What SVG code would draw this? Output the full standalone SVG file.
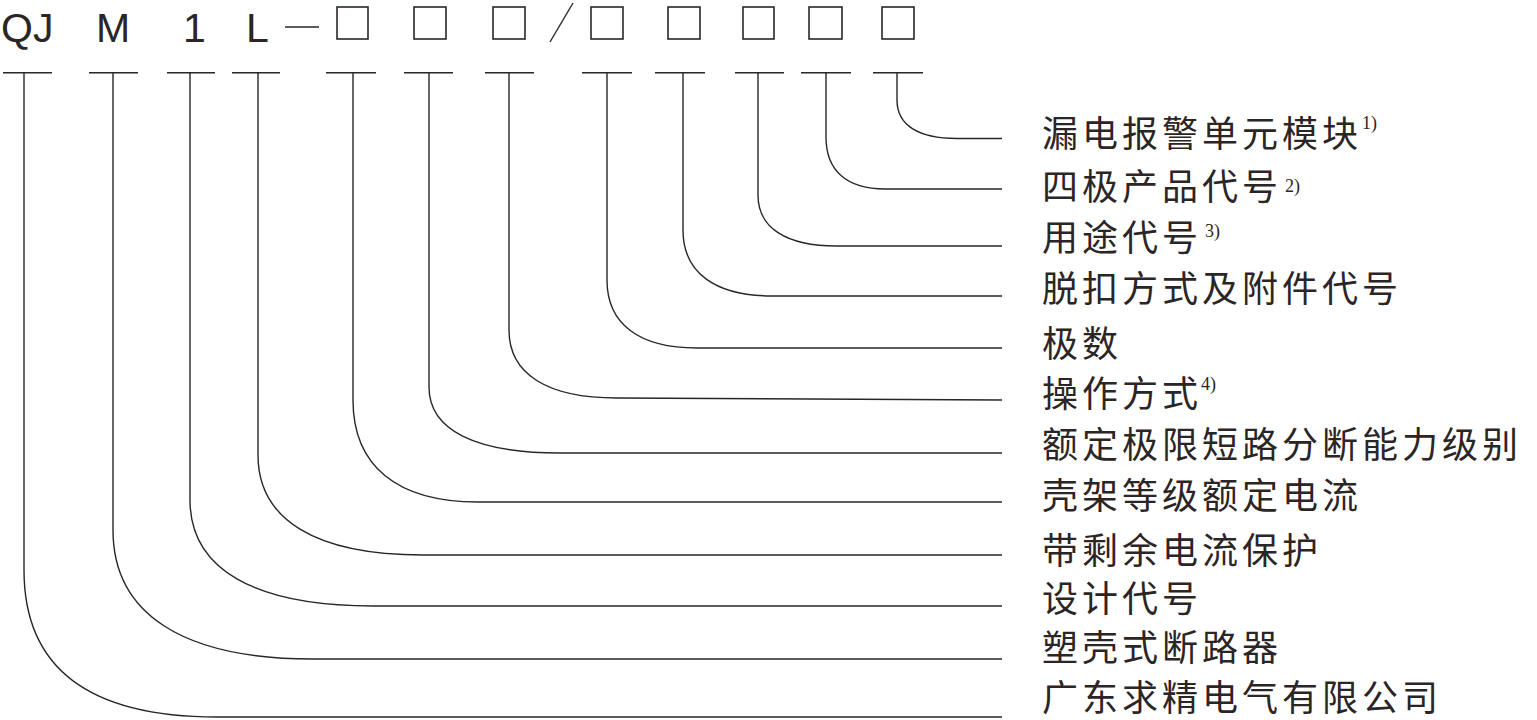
<svg xmlns="http://www.w3.org/2000/svg" width="1537" height="720" viewBox="0 0 1537 720">
<style>
.ln{fill:none;stroke:#2b2526;stroke-width:1.4}
.bx{fill:none;stroke:#2b2526;stroke-width:1.6}
.code{font-family:"Liberation Sans",Arial,sans-serif;font-size:41px;fill:#2b2526}
.lbl{font-family:"Noto Sans CJK SC",sans-serif;font-size:36px;letter-spacing:4px;fill:#2b2526}
.sup{font-family:"Liberation Serif",serif;font-size:18px;fill:#2b2526}
</style>
<rect width="1537" height="720" fill="#ffffff"/>
<g id="code">
<text class="code" x="1" y="42">QJ</text>
<text class="code" x="96" y="42">M</text>
<text class="code" x="183" y="42">1</text>
<text class="code" x="246" y="42">L</text>
<line class="ln" x1="285" y1="27" x2="319" y2="27"/>
<rect class="bx" x="337" y="7" width="31" height="32"/>
<rect class="bx" x="414" y="7" width="32" height="32"/>
<rect class="bx" x="493" y="7" width="32" height="32"/>
<line class="ln" x1="550" y1="42" x2="573" y2="3"/>
<rect class="bx" x="591" y="7" width="32" height="32"/>
<rect class="bx" x="668" y="7" width="32" height="32"/>
<rect class="bx" x="743" y="7" width="31" height="32"/>
<rect class="bx" x="809" y="7" width="33" height="32"/>
<rect class="bx" x="882" y="7" width="32" height="32"/>
</g>
<g id="connectors">
<path class="ln" d="M3 72.7H52M89 72.7H138M167 72.7H215M232 72.7H280M326 72.7H376M404 72.7H453M485 72.7H534M582 72.7H632M655 72.7H705M735 72.7H784M801 72.7H851M873 72.7H923"/>
<path class="ln" d="M897 72.7V100C897 125 918 138.5 957 138.5H1002"/>
<path class="ln" d="M826 72.7V137C826 171 847 189 885 189H1002"/>
<path class="ln" d="M758 72.7V195C758 228 786 246 837 246H1002"/>
<path class="ln" d="M683 72.7V230C683 273 715 296 773 296H1002"/>
<path class="ln" d="M607 72.7V280C607 324 639 348 697 348H1002"/>
<path class="ln" d="M509 72.7V330C509 374 547 398 617 398L1002 400"/>
<path class="ln" d="M429 72.7V387C429 430 475 453 560 453H1002"/>
<path class="ln" d="M353 72.7V400C353 466 397 502 478 502H1002"/>
<path class="ln" d="M258 72.7V455C258 520 316 555 423 555H1002"/>
<path class="ln" d="M190 72.7V500C190 569 254 606 373 606H1002"/>
<path class="ln" d="M113 72.7V530C113 614 183 659 313 659H1002"/>
<path class="ln" d="M24 72.7V570C24 666 85 717 217 717H1002"/>
</g>
<g id="labels">
<g id="l1"><text class="lbl" x="1042" y="147">漏电报警单元模块</text><text class="sup" x="1362" y="129">1)</text></g>
<g id="l2"><text class="lbl" x="1042" y="200">四极产品代号</text><text class="sup" x="1285" y="192">2)</text></g>
<g id="l3"><text class="lbl" x="1042" y="251">用途代号</text><text class="sup" x="1205" y="237">3)</text></g>
<g id="l4"><text class="lbl" x="1042" y="302">脱扣方式及附件代号</text></g>
<g id="l5"><text class="lbl" x="1042" y="357">极数</text></g>
<g id="l6"><text class="lbl" x="1042" y="407">操作方式</text><text class="sup" x="1201" y="390">4)</text></g>
<g id="l7"><text class="lbl" x="1042" y="458">额定极限短路分断能力级别</text></g>
<g id="l8"><text class="lbl" x="1042" y="509">壳架等级额定电流</text></g>
<g id="l9"><text class="lbl" x="1042" y="564">带剩余电流保护</text></g>
<g id="l10"><text class="lbl" x="1042" y="612">设计代号</text></g>
<g id="l11"><text class="lbl" x="1042" y="661">塑壳式断路器</text></g>
<g id="l12"><text class="lbl" x="1042" y="711">广东求精电气有限公司</text></g>
</g>
</svg>
